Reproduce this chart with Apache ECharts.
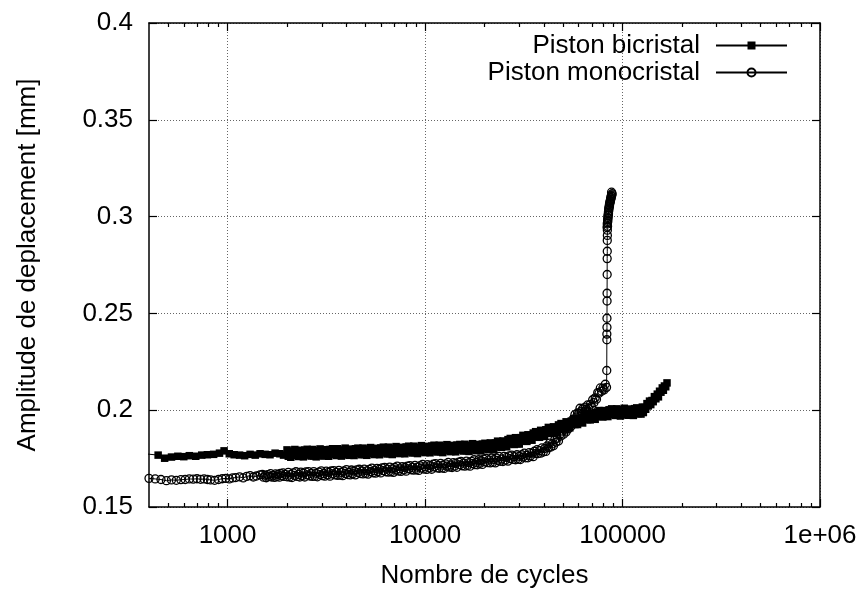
<!DOCTYPE html>
<html><head><meta charset="utf-8">
<script src="https://cdn.jsdelivr.net/npm/echarts@6/dist/echarts.min.js"></script>
<style>html,body{margin:0;padding:0;background:#fff}#c{width:864px;height:594px}</style>
</head><body><div id="c"></div>
<script>
const seriesNames = ['Piston bicristal', 'Piston monocristal'];
const xMajorTicks = [1000, 10000, 100000, 1000000];
const xMajorLabels = ['1000', '10000', '100000', '1e+06'];
const xMinorTicks = [500,600,700,800,900,2000,3000,4000,5000,6000,7000,8000,9000,20000,30000,40000,50000,60000,70000,80000,90000,200000,300000,400000,500000,600000,700000,800000,900000];
const yTickLabels = ['0.15','0.2','0.25','0.3','0.35','0.4'];

const bicristal = [
[380,0.1775],[445,0.1768],[480,0.1752],[520,0.1758],[560,0.1762],[600,0.1760],[640,0.1765],[690,0.1762],[740,0.1768],[790,0.1770],
[850,0.1772],[910,0.1778],[960,0.1790],[1020,0.1775],[1080,0.1770],[1150,0.1768],[1220,0.1765],[1300,0.1772],[1380,0.1768],[1460,0.1775],
[1550,0.1772],[1640,0.1770],[1740,0.1778],[1840,0.1775],[1920,0.1768],
[2000,0.1795],[2030,0.1762],[2060,0.1783],[2090,0.1757],[2120,0.1789],[2150,0.1771],[2190,0.1797],[2220,0.1766],[2250,0.1780],[2290,0.1761],
[2320,0.1793],[2350,0.1769],[2390,0.1786],[2420,0.1759],[2460,0.1794],[2490,0.1775],[2530,0.1798],[2570,0.1768],[2610,0.1784],[2650,0.1763],
[2690,0.1797],[2730,0.1764],[2770,0.1785],[2810,0.1759],[2850,0.1792],[2900,0.1774],[2940,0.1800],[2980,0.1768],[3020,0.1782],[3070,0.1763],
[3110,0.1796],[3160,0.1772],[3210,0.1789],[3250,0.1762],[3300,0.1797],[3350,0.1779],[3400,0.1801],[3450,0.1771],[3500,0.1787],[3560,0.1766],
[3610,0.1801],[3660,0.1768],[3720,0.1789],[3770,0.1763],[3830,0.1795],[3880,0.1778],[3940,0.1804],[4000,0.1772],[4060,0.1786],[4120,0.1767],
[4180,0.1799],[4240,0.1776],[4310,0.1793],[4370,0.1766],[4440,0.1801],[4500,0.1782],[4570,0.1804],[4640,0.1775],[4710,0.1791],[4780,0.1770],
[4850,0.1804],[4920,0.1771],[5000,0.1792],[5070,0.1767],[5150,0.1799],[5220,0.1781],[5300,0.1807],[5380,0.1776],[5460,0.1790],[5540,0.1771],
[5620,0.1803],[5710,0.1780],[5790,0.1797],[5880,0.1770],[5970,0.1805],[6060,0.1787],[6150,0.1809],[6240,0.1779],[6330,0.1795],[6430,0.1774],
[6520,0.1809],[6620,0.1776],[6720,0.1797],[6820,0.1771],[6920,0.1804],[7020,0.1786],[7130,0.1812],[7230,0.1780],[7340,0.1795],[7450,0.1776],
[7560,0.1808],[7670,0.1784],[7790,0.1802],[7900,0.1775],[8020,0.1810],[8140,0.1791],[8260,0.1814],[8380,0.1784],[8510,0.1800],[8630,0.1779],
[8760,0.1814],[8890,0.1781],[9030,0.1802],[9160,0.1776],[9300,0.1809],[9440,0.1791],[9580,0.1817],[9720,0.1785],[9860,0.1800],[10000,0.1781],
[10200,0.1813],[10300,0.1789],[10500,0.1807],[10600,0.1780],[10800,0.1815],[11000,0.1796],[11100,0.1819],[11300,0.1789],[11500,0.1805],[11600,0.1784],
[11800,0.1819],[12000,0.1786],[12200,0.1807],[12300,0.1781],[12500,0.1814],[12700,0.1796],[12900,0.1822],[13100,0.1790],[13300,0.1805],[13500,0.1786],
[13700,0.1818],[13900,0.1794],[14100,0.1812],[14300,0.1785],[14500,0.1820],[14800,0.1801],[15000,0.1823],[15200,0.1794],[15400,0.1810],[15700,0.1789],
[15900,0.1824],[16200,0.1791],[16400,0.1812],[16700,0.1787],[16900,0.1819],[17200,0.1801],[17400,0.1827],[17700,0.1796],[17900,0.1810],[18200,0.1791],
[18400,0.1823],[18700,0.1800],[19000,0.1817],[19200,0.1790],[19500,0.1825],[19800,0.1807],[20100,0.1829],[20400,0.1800],[20700,0.1817],[21000,0.1796],
[21400,0.1831],[21700,0.1799],[22000,0.1821],[22300,0.1796],[22700,0.1830],[23000,0.1813],[23300,0.1840],[23700,0.1810],[24000,0.1825],[24400,0.1808],
[24800,0.1841],[25100,0.1818],[25500,0.1837],[25900,0.1811],[26300,0.1848],[26700,0.1830],[27000,0.1854],[27500,0.1825],[27900,0.1843],[28300,0.1823],
[28700,0.1858],[29200,0.1827],[29600,0.1849],[30000,0.1825],[30400,0.1858],[30900,0.1842],[31300,0.1870],[31800,0.1840],[32300,0.1856],[32800,0.1839],
[33200,0.1873],[33700,0.1851],[34200,0.1870],[34800,0.1845],[35300,0.1882],[35800,0.1865],[36300,0.1889],[36900,0.1861],[37400,0.1879],[38000,0.1860],
[38500,0.1896],[39100,0.1865],[39700,0.1889],[40300,0.1865],[40900,0.1899],[41500,0.1883],[42100,0.1911],[42800,0.1881],[43400,0.1897],[44100,0.1880],
[44700,0.1914],[45400,0.1892],[46000,0.1911],[46700,0.1886],[47400,0.1924],[48100,0.1907],[48800,0.1931],[49600,0.1903],[50300,0.1922],[51100,0.1903],
[51800,0.1940],[52600,0.1909],[53300,0.1932],[54100,0.1909],[54900,0.1943],[55800,0.1928],[56600,0.1956],[57400,0.1926],[58300,0.1943],[59200,0.1926],
[60000,0.1960],[60900,0.1939],[61800,0.1958],[62800,0.1934],[63700,0.1971],[64700,0.1955],[65600,0.1979],[66600,0.1951],[67500,0.1969],[68600,0.1950],
[69600,0.1986],[70600,0.1955],[71600,0.1977],[72700,0.1953],[73800,0.1987],[74900,0.1971],[76000,0.1998],[77200,0.1968],[78300,0.1983],[79500,0.1965],
[80600,0.1998],[81800,0.1975],[83000,0.1993],[84300,0.1967],[85500,0.2002],[86800,0.1984],[88100,0.2007],[89400,0.1977],[90700,0.1994],[92000,0.1973],
[93400,0.2007],[94800,0.1975],[96200,0.1996],[97600,0.1970],[99100,0.2002],[100600,0.1984],[102000,0.2010],[103500,0.1979],[105000,0.1993],[106500,0.1974],
[108000,0.2006],[110000,0.1983],[112000,0.2000],[113500,0.1973],[115000,0.2008],[116500,0.1990],[118000,0.2012],[120000,0.1982],[122000,0.1999],[124000,0.1980],
[126000,0.2016],[127500,0.1988],[129000,0.2014],[131000,0.2005],[133000,0.2034],[135000,0.2022],[137000,0.2047],[139000,0.2029],[141000,0.2050],[143000,0.2044],
[145000,0.2070],[147500,0.2059],[150000,0.2083],[152000,0.2069],[154000,0.2098],[156500,0.2093],[159000,0.2115],[161000,0.2103],[163000,0.2125],[165500,0.2121],
[168000,0.2141]
];

const monocristal = [
[400,0.1648],[430,0.1645],[460,0.1642],[490,0.1636],[520,0.1640],[550,0.1638],[580,0.1641],[610,0.1642],[640,0.1645],[670,0.1644],
[700,0.1646],[730,0.1643],[760,0.1645],[790,0.1642],[820,0.1640],[860,0.1638],[900,0.1642],[940,0.1646],[980,0.1648],[1020,0.1645],
[1060,0.1650],[1100,0.1652],[1150,0.1656],[1200,0.1650],[1250,0.1658],[1300,0.1662],[1350,0.1655],[1400,0.1660],[1460,0.1666],
[1500,0.1668],[1520,0.1654],[1550,0.1664],[1570,0.1651],[1600,0.1667],[1620,0.1658],[1650,0.1672],[1670,0.1655],[1700,0.1663],[1730,0.1653],
[1750,0.1671],[1780,0.1658],[1800,0.1668],[1830,0.1654],[1850,0.1673],[1880,0.1661],[1910,0.1676],[1930,0.1658],[1960,0.1669],[2000,0.1656],
[2030,0.1679],[2060,0.1655],[2090,0.1669],[2120,0.1652],[2150,0.1676],[2190,0.1663],[2220,0.1682],[2250,0.1658],[2290,0.1669],[2320,0.1655],
[2350,0.1680],[2390,0.1661],[2420,0.1675],[2460,0.1655],[2490,0.1681],[2530,0.1666],[2570,0.1683],[2610,0.1660],[2650,0.1674],[2690,0.1658],
[2730,0.1683],[2770,0.1659],[2810,0.1674],[2850,0.1656],[2900,0.1680],[2940,0.1667],[2980,0.1687],[3020,0.1662],[3070,0.1673],[3110,0.1659],
[3160,0.1685],[3210,0.1666],[3250,0.1679],[3300,0.1659],[3350,0.1686],[3400,0.1671],[3450,0.1688],[3500,0.1666],[3560,0.1679],[3610,0.1663],
[3660,0.1689],[3720,0.1665],[3770,0.1679],[3830,0.1662],[3880,0.1686],[3940,0.1673],[4000,0.1693],[4060,0.1668],[4120,0.1679],[4180,0.1666],
[4240,0.1691],[4310,0.1672],[4370,0.1686],[4440,0.1666],[4500,0.1692],[4570,0.1678],[4640,0.1695],[4710,0.1673],[4780,0.1686],[4850,0.1671],
[4920,0.1696],[5000,0.1673],[5070,0.1687],[5150,0.1670],[5220,0.1694],[5300,0.1682],[5380,0.1701],[5460,0.1677],[5540,0.1688],[5620,0.1675],
[5710,0.1700],[5790,0.1682],[5880,0.1695],[5970,0.1676],[6060,0.1702],[6150,0.1688],[6240,0.1705],[6330,0.1682],[6430,0.1696],[6520,0.1680],
[6620,0.1706],[6720,0.1682],[6820,0.1697],[6920,0.1679],[7020,0.1704],[7130,0.1691],[7230,0.1711],[7340,0.1686],[7450,0.1697],[7560,0.1684],
[7670,0.1709],[7790,0.1691],[7900,0.1704],[8020,0.1685],[8140,0.1711],[8260,0.1697],[8380,0.1714],[8510,0.1692],[8630,0.1705],[8760,0.1690],
[8890,0.1715],[9030,0.1692],[9160,0.1706],[9300,0.1689],[9440,0.1713],[9580,0.1701],[9720,0.1720],[9860,0.1696],[10000,0.1707],[10200,0.1694],
[10300,0.1719],[10500,0.1701],[10600,0.1714],[10800,0.1695],[11000,0.1721],[11100,0.1707],[11300,0.1724],[11500,0.1702],[11600,0.1715],[11800,0.1700],
[12000,0.1725],[12200,0.1702],[12300,0.1716],[12500,0.1699],[12700,0.1723],[12900,0.1711],[13100,0.1730],[13300,0.1706],[13500,0.1717],[13700,0.1704],
[13900,0.1729],[14100,0.1711],[14300,0.1725],[14500,0.1705],[14800,0.1732],[15000,0.1718],[15200,0.1735],[15400,0.1713],[15700,0.1727],[15900,0.1711],
[16200,0.1737],[16400,0.1714],[16700,0.1729],[16900,0.1711],[17200,0.1736],[17400,0.1724],[17700,0.1744],[17900,0.1719],[18200,0.1731],[18400,0.1718],
[18700,0.1744],[19000,0.1726],[19200,0.1739],[19500,0.1720],[19800,0.1747],[20100,0.1733],[20400,0.1751],[20700,0.1729],[21000,0.1743],[21400,0.1728],
[21700,0.1753],[22000,0.1730],[22300,0.1745],[22700,0.1728],[23000,0.1753],[23300,0.1741],[23700,0.1761],[24000,0.1736],[24400,0.1748],[24800,0.1735],
[25100,0.1761],[25500,0.1742],[25900,0.1756],[26300,0.1737],[26700,0.1764],[27000,0.1750],[27500,0.1768],[27900,0.1746],[28300,0.1760],[28700,0.1744],
[29200,0.1770],[29600,0.1747],[30000,0.1762],[30400,0.1745],[30900,0.1770],[31300,0.1758],[31800,0.1778],[32300,0.1754],[32800,0.1767],[33200,0.1754],
[33700,0.1781],[34200,0.1763],[34800,0.1778],[35300,0.1760],[35800,0.1788],[36300,0.1776],[36900,0.1796],[37400,0.1776],[38000,0.1791],[38500,0.1778],
[39100,0.1805],[39700,0.1784],[40300,0.1802],[40900,0.1787],[41500,0.1815],[42100,0.1806],[42800,0.1830],[43400,0.1810],[44100,0.1826],[44700,0.1817],
[45400,0.1848],[46000,0.1835],[46700,0.1855],[47400,0.1841],[48100,0.1874],[48800,0.1867],[49600,0.1892],[50300,0.1876],[51100,0.1897],[51800,0.1888],
[52600,0.1921],[53300,0.1904],[54100,0.1926],[54900,0.1917],[55800,0.1950],[56600,0.1946],[57400,0.1977],[58300,0.1965],[59200,0.1986],[60000,0.1982],
[60900,0.2010],[61800,0.1995],[62800,0.2007],[63700,0.1986],[64700,0.2016],[65600,0.2005],[66600,0.2027],[67500,0.2009],[68600,0.2029],[69600,0.2020],
[70600,0.2054],[71600,0.2039],[72700,0.2064],[73800,0.2057],[74900,0.2091],[76000,0.2088],[77200,0.2115],[78300,0.2098],[79500,0.2114],[80600,0.2105],
[81800,0.2134],[83000,0.2118],
[83200,0.2205],[83300,0.2364],[83300,0.2393],[83400,0.2428],[83400,0.2475],[83500,0.2564],[83500,0.2604],[83600,0.2701],[83600,0.2783],[83700,0.2821],
[83700,0.2877],[83800,0.2903],[83800,0.2930],[83500,0.2945],[84000,0.2950],[83700,0.2962],[84200,0.2975],[83900,0.2968],[84400,0.2990],[84100,0.2982],
[84600,0.3005],[84300,0.2995],[84900,0.3015],[84500,0.3008],[85200,0.3030],[84800,0.3022],[85500,0.3045],[85100,0.3038],[85900,0.3055],[85400,0.3050],
[86300,0.3068],[85800,0.3062],[86700,0.3078],[86200,0.3072],[87100,0.3088],[86600,0.3082],[87500,0.3095],[87000,0.3090],[87900,0.3105],[87300,0.3100],
[88300,0.3112],[87700,0.3108],[88600,0.3118],[88000,0.3126]
];

const FONT = 'Liberation Sans';
const FS = 26;
const chart = echarts.init(document.getElementById('c'), null, {renderer: 'canvas'});

function logAxis(pos, ticks, len, major) {
  return {
    type: 'log', logBase: 10, min: 400, max: 1000000, position: pos, gridIndex: 0,
    axisLine: {show: major, onZero: false, lineStyle: {color: '#000', width: 1.5}},
    axisTick: {show: true, inside: true, length: len, customValues: ticks, lineStyle: {color: '#000', width: 1.2}},
    axisLabel: {show: false},
    splitLine: {show: false},
    minorTick: {show: false}, minorSplitLine: {show: false}
  };
}

const xBottom = logAxis('bottom', xMajorTicks, 8, true);
xBottom.axisLabel = {
  show: true, customValues: xMajorTicks, margin: 16,
  fontFamily: FONT, fontSize: FS, color: '#000',
  formatter: v => { const i = xMajorTicks.indexOf(Math.round(v)); return i >= 0 ? xMajorLabels[i] : ''; }
};
xBottom.splitLine = {show: true, lineStyle: {color: '#666', width: 1, type: [1, 2]}};
xBottom.name = 'Nombre de cycles';
xBottom.nameLocation = 'middle';
xBottom.nameGap = 56;
xBottom.nameTextStyle = {fontFamily: FONT, fontSize: FS, color: '#000'};

const option = {
  animation: false,
  backgroundColor: '#fff',
  grid: {left: 149, right: 44, top: 23, bottom: 84, containLabel: false},
  legend: {
    show: true, orient: 'vertical', right: 71, top: 27, align: 'right',
    itemWidth: 71, itemHeight: 10, itemGap: 0,
    textStyle: {fontFamily: FONT, fontSize: FS, color: '#000', lineHeight: 27, padding: [0, 11, 0, 0]},
    data: seriesNames, selectedMode: false
  },
  xAxis: [
    xBottom,
    logAxis('bottom', xMinorTicks, 4, false),
    logAxis('top', xMajorTicks, 8, true),
    logAxis('top', xMinorTicks, 4, false)
  ],
  yAxis: [
    {
      type: 'value', min: 0.15, max: 0.4, interval: 0.05, position: 'left',
      axisLine: {show: true, onZero: false, lineStyle: {color: '#000', width: 1.5}},
      axisTick: {show: true, inside: true, length: 8, lineStyle: {color: '#000', width: 1.2}},
      axisLabel: {show: true, margin: 16, fontFamily: FONT, fontSize: FS, color: '#000',
        formatter: v => yTickLabels[Math.round((v - 0.15) / 0.05)]},
      splitLine: {show: true, lineStyle: {color: '#666', width: 1, type: [1, 2]}},
      name: 'Amplitude de deplacement [mm]', nameLocation: 'middle', nameGap: 108,
      nameTextStyle: {fontFamily: FONT, fontSize: FS, color: '#000'}
    },
    {
      type: 'value', min: 0.15, max: 0.4, interval: 0.05, position: 'right',
      axisLine: {show: true, onZero: false, lineStyle: {color: '#000', width: 1.5}},
      axisTick: {show: true, inside: true, length: 8, lineStyle: {color: '#000', width: 1.2}},
      axisLabel: {show: false}, splitLine: {show: false}
    }
  ],
  series: [
    {
      name: seriesNames[0], type: 'line', xAxisIndex: 0, yAxisIndex: 0,
      data: bicristal, showSymbol: true, showAllSymbol: true,
      symbol: 'rect', symbolSize: 7.5,
      itemStyle: {color: '#000'},
      lineStyle: {color: '#000', width: 1},
      clip: true, z: 3
    },
    {
      name: seriesNames[1], type: 'line', xAxisIndex: 0, yAxisIndex: 0,
      data: monocristal, showSymbol: true, showAllSymbol: true,
      symbol: 'circle', symbolSize: 8,
      itemStyle: {color: 'rgba(255,255,255,0)', borderColor: '#000', borderWidth: 1.3},
      lineStyle: {color: '#000', width: 1},
      clip: true, z: 4
    }
  ]
};
chart.setOption(option);
</script>
</body></html>
